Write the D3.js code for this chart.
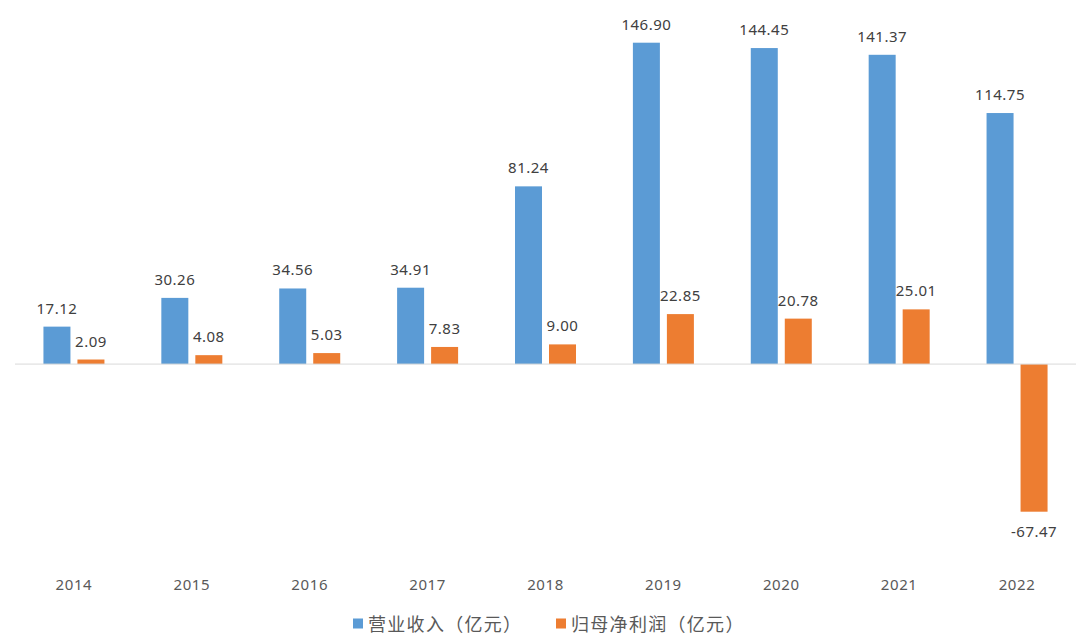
<!DOCTYPE html>
<html>
<head>
<meta charset="utf-8">
<script src="https://cdn.jsdelivr.net/npm/d3@7"></script>
<style>
  html, body { margin: 0; padding: 0; background: #fff; }
  text { font-family: "Noto Sans", "Noto Sans CJK SC", sans-serif; }
</style>
</head>
<body>
<div id="chart"></div>
<script>
// ==========================
// Data
// ==========================
const years = ["2014", "2015", "2016", "2017", "2018", "2019", "2020", "2021", "2022"];
const revenue = [17.12, 30.26, 34.56, 34.91, 81.24, 146.90, 144.45, 141.37, 114.75];
const netProfit = [2.09, 4.08, 5.03, 7.83, 9.00, 22.85, 20.78, 25.01, -67.47];
const seriesNames = ["营业收入（亿元）", "归母净利润（亿元）"];
const seriesColors = ["#5b9bd5", "#ed7d31"];

// ==========================
// Dimensions
// ==========================
const width = 1080;
const height = 636;
const plotLeft = 15;
const plotRight = 1076;

const svg = d3.select("#chart")
    .append("svg")
    .attr("width", width)
    .attr("height", height);

// ==========================
// Scales
// ==========================
const x = d3.scaleBand()
    .domain(years)
    .range([plotLeft, plotRight]);

const y = d3.scaleLinear()
    .domain([-67.47, 146.90])
    .range([511.7, 42.7]);

const barW = 27;
const gap = 7;

const series = [revenue, netProfit];

// bars + value labels
series.forEach((vals, s) => {
    const g = svg.append("g");
    const offset = s === 0 ? -(gap / 2 + barW) : gap / 2;

    g.selectAll("rect")
        .data(vals)
        .enter()
        .append("rect")
        .attr("x", (d, i) => x(years[i]) + x.bandwidth() / 2 + offset)
        .attr("y", d => y(Math.max(0, d)))
        .attr("width", barW)
        .attr("height", d => Math.abs(y(d) - y(0)))
        .attr("fill", seriesColors[s]);

    g.selectAll("text")
        .data(vals)
        .enter()
        .append("text")
        .attr("x", (d, i) => x(years[i]) + x.bandwidth() / 2 + offset + barW / 2)
        .attr("y", d => d >= 0 ? y(d) - 13 : y(d) + 25)
        .attr("text-anchor", "middle")
        .attr("font-size", 15)
        .attr("letter-spacing", 0.5)
        .attr("fill", "#404040")
        .text(d => d.toFixed(2));
});

// zero line
svg.append("line")
    .attr("x1", plotLeft)
    .attr("x2", plotRight)
    .attr("y1", y(0))
    .attr("y2", y(0))
    .attr("stroke", "#d9d9d9")
    .attr("stroke-width", 1);

// year labels
svg.append("g")
    .selectAll("text")
    .data(years)
    .enter()
    .append("text")
    .attr("x", d => x(d) + x.bandwidth() / 2)
    .attr("y", 590)
    .attr("text-anchor", "middle")
    .attr("font-size", 15)
    .attr("letter-spacing", 0.6)
    .attr("fill", "#595959")
    .text(d => d);

// legend
const legendX = [353, 556];
const legend = svg.append("g");
seriesNames.forEach((name, i) => {
    legend.append("rect")
        .attr("x", legendX[i])
        .attr("y", 618.5)
        .attr("width", 10)
        .attr("height", 10)
        .attr("fill", seriesColors[i]);
    legend.append("text")
        .attr("x", legendX[i] + 15)
        .attr("y", 631)
        .attr("font-size", 18)
        .attr("letter-spacing", 1.3)
        .attr("fill", "#595959")
        .style("font-family", "'Noto Sans CJK SC', sans-serif")
        .text(name);
});
</script>
</body>
</html>
